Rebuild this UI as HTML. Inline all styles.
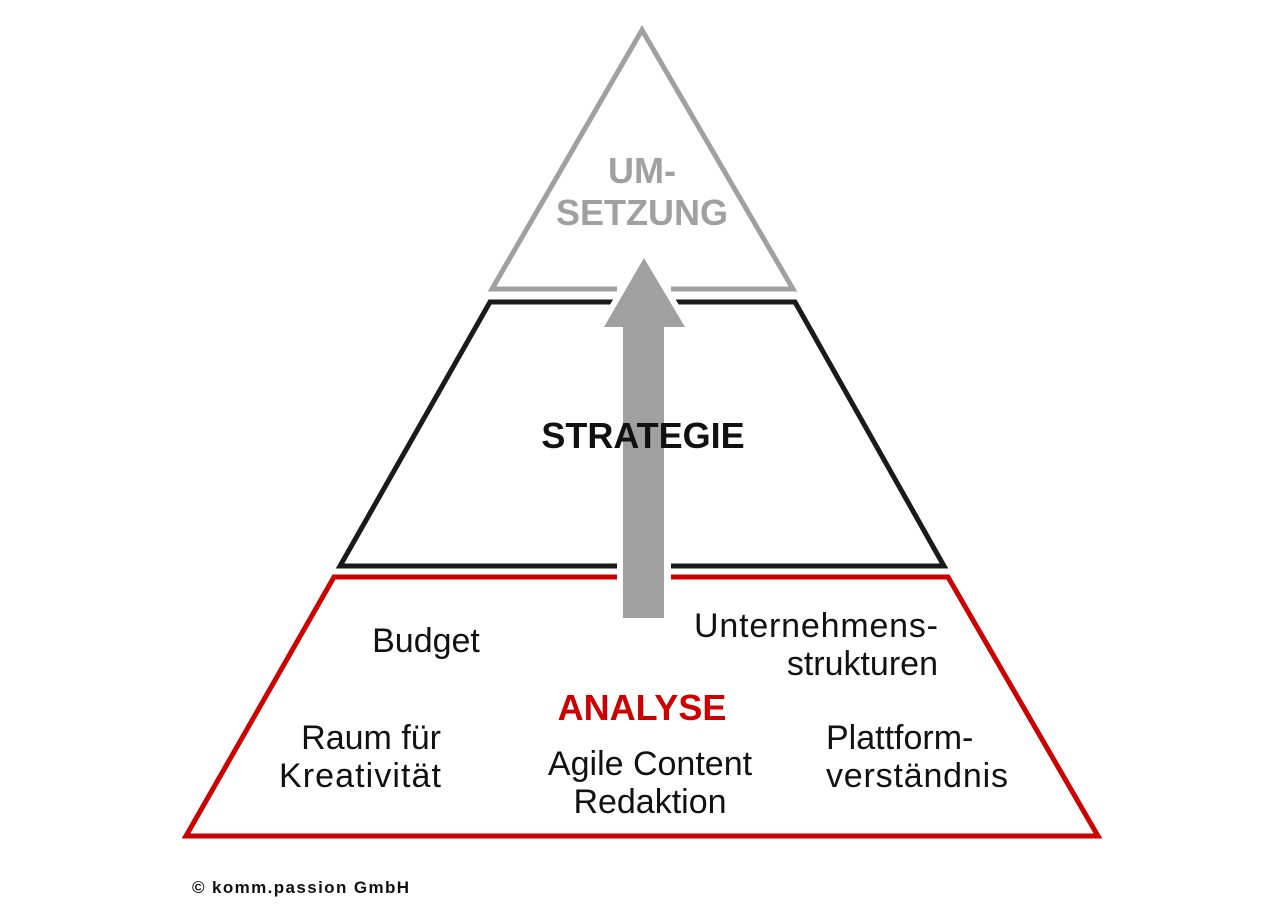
<!DOCTYPE html>
<html><head><meta charset="utf-8"><style>
html,body{margin:0;padding:0;background:#fff;}
svg{display:block}
.b{font-family:"Liberation Sans Narrow","Liberation Sans",sans-serif;font-size:34px;fill:#111}
.h{font-family:"Liberation Sans Narrow","Liberation Sans",sans-serif;font-weight:bold;font-size:36px;text-anchor:middle}
</style></head><body>
<svg width="1279" height="904" viewBox="0 0 1279 904">
<polygon points="642,30 793,289 492,289" fill="none" stroke="#a0a0a0" stroke-width="5" stroke-linejoin="miter"/>
<polygon points="490,302 795,302 944,566 340,566" fill="none" stroke="#1a1a1a" stroke-width="5"/>
<polygon points="334,577 948,577 1098,836 186,836" fill="none" stroke="#cc0000" stroke-width="5"/>
<rect x="617" y="280" width="54" height="30" fill="#fff"/>
<rect x="617" y="555" width="54" height="30" fill="#fff"/>
<polygon points="644,258 685,327 664,327 664,618 623,618 623,327 604,327" fill="#fff" stroke="#fff" stroke-width="12" stroke-linejoin="miter"/>
<polygon points="644,258 685,327 664,327 664,618 623,618 623,327 604,327" fill="#a0a0a0"/>
<text class="h" x="642" y="183" fill="#a0a0a0">UM-</text>
<text class="h" x="642" y="225" fill="#a0a0a0">SETZUNG</text>
<text class="h" x="643" y="448" fill="#111">STRATEGIE</text>
<text class="h" x="642" y="720" fill="#cc0000">ANALYSE</text>
<text class="b" x="426" y="652" text-anchor="middle">Budget</text>
<text class="b" x="938" y="637" text-anchor="end" textLength="244">Unternehmens-</text>
<text class="b" x="938" y="675" text-anchor="end">strukturen</text>
<text class="b" x="441" y="749" text-anchor="end">Raum für</text>
<text class="b" x="441" y="787" text-anchor="end" textLength="162">Kreativität</text>
<text class="b" x="650" y="775" text-anchor="middle">Agile Content</text>
<text class="b" x="650" y="813" text-anchor="middle">Redaktion</text>
<text class="b" x="826" y="749">Plattform-</text>
<text class="b" x="826" y="787" textLength="182">verständnis</text>
<text x="192" y="893" style="font-family:'Liberation Sans',sans-serif;font-weight:bold;font-size:17px;fill:#111" textLength="217">© komm.passion GmbH</text>
</svg>
</body></html>
